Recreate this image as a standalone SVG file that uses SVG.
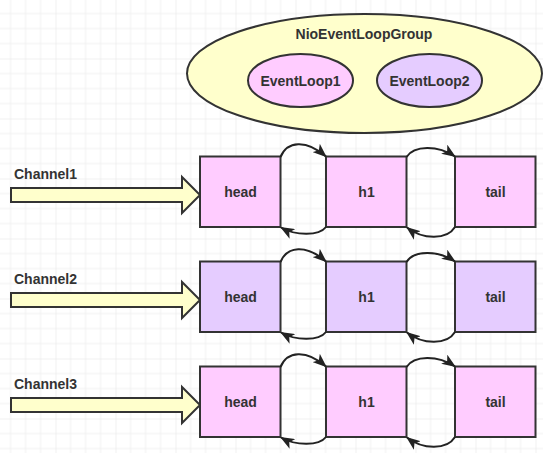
<svg xmlns="http://www.w3.org/2000/svg" width="543" height="453" viewBox="0 0 543 453">
<defs>
<pattern id="grid" x="-4.5" y="-1.5" width="60" height="60" patternUnits="userSpaceOnUse">
<path d="M15,0V60M30,0V60M45,0V60M0,15H60M0,30H60M0,45H60" stroke="#f0f0f0" stroke-width="1" fill="none"/>
<path d="M0,0V60M0,0H60" stroke="#e4e4e4" stroke-width="1" fill="none"/>
</pattern>
<marker id="ah" markerUnits="userSpaceOnUse" markerWidth="14" markerHeight="11" viewBox="0 0 14 11" refX="13" refY="5.5" orient="auto">
<path d="M0,0 L14,5.5 L0,11 L3.5,5.5 Z" fill="#222"/>
</marker>
<style>
.lbl{font-family:"Liberation Sans",Arial,sans-serif;font-weight:bold;font-size:14px;fill:#333}
.c{text-anchor:middle}
.box{stroke:#333;stroke-width:2}
.pink{fill:#ffccff}
.lav{fill:#e5ccff}
.yel{fill:#ffffcc;stroke:#333;stroke-width:2}
.link{fill:none;stroke:#222;stroke-width:2;marker-end:url(#ah)}
</style>
</defs>
<rect width="543" height="453" fill="#ffffff"/>
<rect width="543" height="453" fill="url(#grid)"/>

<g id="group">
<ellipse cx="364.5" cy="73.5" rx="177.5" ry="59.5" class="yel"/>
<text x="364" y="39" class="lbl c" font-size="14.5">NioEventLoopGroup</text>
</g>
<g id="eventloop1">
<ellipse cx="300.5" cy="80.5" rx="52.5" ry="26.5" class="box pink"/>
<text x="300.5" y="86" class="lbl c">EventLoop1</text>
</g>
<g id="eventloop2">
<ellipse cx="429.5" cy="80.5" rx="52.5" ry="26.5" class="box lav"/>
<text x="429.5" y="86" class="lbl c">EventLoop2</text>
</g>

<g id="channel1">
<text x="14" y="179" class="lbl">Channel1</text>
<polygon points="11,188 182,188 182,177 200,195 182,213 182,202 11,202" class="yel"/>
</g>
<g id="channel2">
<text x="14" y="284" class="lbl">Channel2</text>
<polygon points="11,293 182,293 182,282 200,300 182,318 182,307 11,307" class="yel"/>
</g>
<g id="channel3">
<text x="14" y="389" class="lbl">Channel3</text>
<polygon points="11,398 182,398 182,387 200,405 182,423 182,412 11,412" class="yel"/>
</g>

<g id="head1"><rect x="200" y="156.5" width="80.5" height="70.5" class="box pink"/><text x="240.5" y="196.5" class="lbl c">head</text></g>
<g id="h1-1"><rect x="326" y="156.5" width="80.5" height="70.5" class="box pink"/><text x="366.5" y="196.5" class="lbl c">h1</text></g>
<g id="tail1"><rect x="455" y="156.5" width="80.5" height="70.5" class="box pink"/><text x="495.5" y="196.5" class="lbl c">tail</text></g>

<g id="head2"><rect x="200" y="261.5" width="80.5" height="70.5" class="box lav"/><text x="240.5" y="301.5" class="lbl c">head</text></g>
<g id="h1-2"><rect x="326" y="261.5" width="80.5" height="70.5" class="box lav"/><text x="366.5" y="301.5" class="lbl c">h1</text></g>
<g id="tail2"><rect x="455" y="261.5" width="80.5" height="70.5" class="box lav"/><text x="495.5" y="301.5" class="lbl c">tail</text></g>

<g id="head3"><rect x="200" y="366.5" width="80.5" height="70.5" class="box pink"/><text x="240.5" y="406.5" class="lbl c">head</text></g>
<g id="h1-3"><rect x="326" y="366.5" width="80.5" height="70.5" class="box pink"/><text x="366.5" y="406.5" class="lbl c">h1</text></g>
<g id="tail3"><rect x="455" y="366.5" width="80.5" height="70.5" class="box pink"/><text x="495.5" y="406.5" class="lbl c">tail</text></g>

<g id="connectors">
<path class="link" d="M280.5,157 C287,141 306,139 326,156.5"/>
<path class="link" d="M326,227 C319,236 296,236 281,227.5"/>
<path class="link" d="M406.5,157 C414,145 438,145 455,156.5"/>
<path class="link" d="M455,227 C447,240 423,240 407,227.5"/>

<path class="link" d="M280.5,262 C287,246 306,244 326,261.5"/>
<path class="link" d="M326,332 C319,341 296,341 281,332.5"/>
<path class="link" d="M406.5,262 C414,250 438,250 455,261.5"/>
<path class="link" d="M455,332 C447,345 423,345 407,332.5"/>

<path class="link" d="M280.5,367 C287,351 306,349 326,366.5"/>
<path class="link" d="M326,437 C319,446 296,446 281,437.5"/>
<path class="link" d="M406.5,367 C414,355 438,355 455,366.5"/>
<path class="link" d="M455,437 C447,450 423,450 407,437.5"/>
</g>
</svg>
